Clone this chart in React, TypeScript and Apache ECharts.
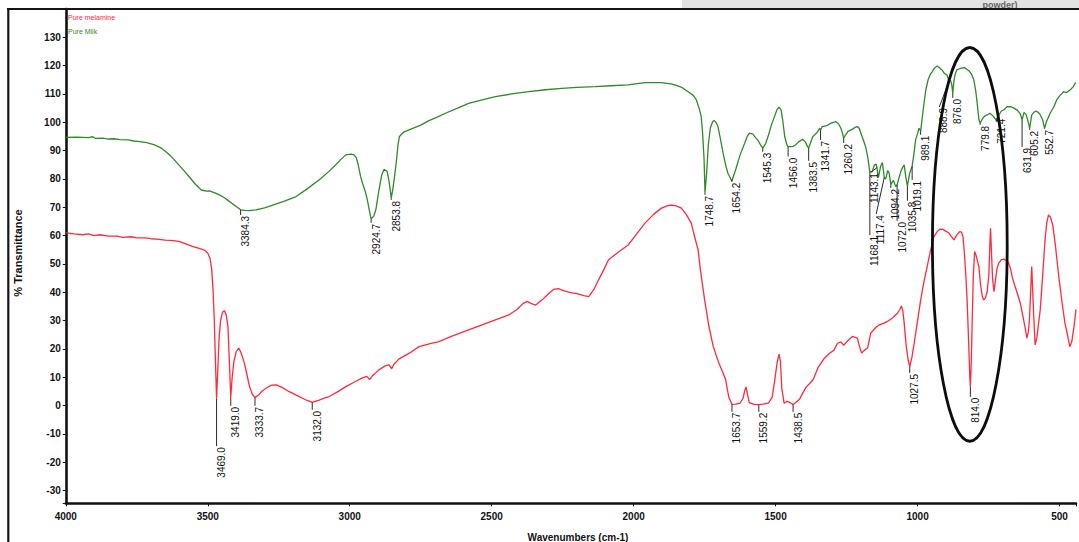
import React, { useEffect, useRef } from "react";
import * as echarts from "echarts";

// [wavenumber (cm-1), % transmittance]
const milkSpectrum: number[][] = [
  [4000, 94.7], [3960, 94.8], [3920, 94.6], [3905, 94.9], [3895, 94.3], [3870, 94.4], [3850, 94.1], [3830, 94.2],
  [3810, 93.9], [3780, 93.8], [3760, 93.4], [3740, 93.2], [3715, 92.8], [3690, 92.1], [3665, 91.0], [3640, 89.0],
  [3620, 87.0], [3599, 84.6], [3580, 82.5], [3564, 80.6], [3545, 78.3], [3523, 76.1], [3505, 75.7], [3494, 75.8],
  [3475, 75.1], [3459, 74.4], [3440, 73.3], [3423, 72.0], [3400, 70.3], [3384.3, 69.1], [3370, 68.9], [3353, 68.8],
  [3330, 69.1], [3300, 69.8], [3271, 70.8], [3230, 72.2], [3189, 73.8], [3150, 76.5], [3107, 79.7], [3075, 82.5],
  [3049, 85.0], [3030, 87.0], [3014, 88.5], [2995, 88.8], [2985, 88.5], [2977, 87.5], [2970, 85.0], [2962, 81.0],
  [2955, 78.5], [2945, 75.5], [2938, 72.6], [2930, 68.5], [2924.7, 65.8], [2915, 67.0], [2908, 69.1], [2902, 73.0],
  [2897, 76.1], [2887, 81.5], [2879, 83.4], [2868, 82.6], [2862, 79.5], [2856, 75.0], [2853.8, 73.2], [2848, 76.5],
  [2842, 81.0], [2836, 86.0], [2830, 92.0], [2825, 95.0], [2810, 96.5], [2791, 97.3], [2750, 99.0], [2721, 100.6],
  [2690, 101.9], [2663, 103.2], [2620, 105.0], [2581, 106.7], [2530, 108.0], [2487, 109.1], [2430, 110.0],
  [2370, 110.8], [2310, 111.5], [2253, 112.0], [2200, 112.3], [2136, 112.6], [2080, 112.9], [2019, 113.2],
  [1960, 114.0], [1902, 114.0], [1870, 113.6], [1855, 113.2], [1830, 112.3], [1808, 110.8], [1790, 109.5],
  [1779, 107.9], [1768, 104.5], [1762, 102.0], [1757, 96.0], [1752, 87.0], [1748.7, 75.2], [1743, 82.0],
  [1737, 92.0], [1730, 98.0], [1722, 100.2], [1717, 100.6], [1710, 100.0], [1703, 98.5], [1694, 94.0],
  [1685, 89.1], [1675, 84.5], [1668, 82.0], [1654.2, 79.3], [1640, 83.5], [1625, 88.5], [1609, 92.6],
  [1600, 95.0], [1592, 96.2], [1580, 95.8], [1570, 94.5], [1563, 93.8], [1553, 92.0], [1545.3, 90.9],
  [1535, 92.5], [1525, 95.5], [1515, 99.0], [1504, 102.0], [1495, 104.5], [1488, 105.3], [1481, 104.5],
  [1475, 100.8], [1468, 95.0], [1460, 92.0], [1456, 91.4], [1440, 91.4], [1430, 92.0], [1420, 93.0],
  [1405, 94.0], [1395, 93.0], [1388, 91.5], [1383.5, 90.9], [1378, 92.5], [1369, 95.0], [1360, 95.8],
  [1352, 96.7], [1345, 97.9], [1341.7, 97.2], [1336, 98.5], [1320, 98.8], [1305, 99.7], [1288, 100.2],
  [1278, 99.4], [1270, 97.9], [1264, 96.0], [1260.2, 94.4], [1254, 95.5], [1245, 96.8], [1229, 97.6],
  [1220, 98.2], [1212, 98.5], [1205, 97.8], [1200, 96.2], [1190, 93.5], [1182, 91.0], [1176, 88.0],
  [1168.1, 82.5], [1160, 82.5], [1152, 85.0], [1146, 85.2], [1143.1, 84.0], [1138, 80.5], [1130, 84.5],
  [1124, 85.8], [1119, 82.0], [1117.4, 80.5], [1112, 80.0], [1105, 83.0], [1100, 82.0], [1094.2, 78.0],
  [1085, 79.5], [1077, 77.3], [1072, 78.0], [1065, 80.5], [1058, 83.0], [1053, 84.0], [1047, 85.0],
  [1042, 81.0], [1035.8, 77.5], [1028, 82.0], [1019.1, 84.5], [1012, 89.5], [1007, 93.8], [1000, 96.0],
  [995, 97.9], [989.1, 97.0], [983, 102.0], [977, 107.0], [971, 111.4], [963, 115.0], [955, 117.0],
  [948, 117.9], [940, 119.2], [931, 119.9], [922, 119.2], [914, 118.5], [905, 117.2], [897, 116.8],
  [888.9, 114.6], [884, 114.8], [880, 113.5], [876, 110.4], [872, 114.5], [868, 116.8], [862, 118.5],
  [850, 119.0], [835, 119.3], [819, 118.2], [810, 117.0], [802, 115.0], [795, 111.0], [790, 106.7],
  [784, 101.0], [779.8, 99.7], [770, 101.5], [762, 102.3], [755, 102.6], [745, 103.2], [732, 102.0],
  [725, 101.0], [721.4, 100.3], [714, 102.5], [705, 104.0], [696, 104.4], [685, 105.5], [673, 105.5],
  [660, 105.0], [648, 104.2], [638, 103.0], [631.9, 100.8], [625, 103.5], [618, 102.8], [610, 100.0],
  [605.2, 97.9], [598, 102.5], [590, 103.6], [582, 104.0], [570, 103.0], [560, 101.0], [552.7, 97.9],
  [545, 100.5], [533, 103.2], [520, 105.5], [510, 107.9], [498, 109.5], [486, 110.8], [475, 110.5],
  [463, 111.4], [452, 112.5], [445, 113.8], [442, 114.0],
];

const melamineSpectrum: number[][] = [
  [4000, 61.0], [3970, 60.6], [3940, 60.3], [3920, 60.6], [3900, 60.0], [3880, 60.3], [3850, 59.8], [3820, 59.8],
  [3800, 59.4], [3770, 59.6], [3750, 59.2], [3720, 59.2], [3700, 58.9], [3670, 58.7], [3650, 58.4], [3620, 58.2],
  [3599, 57.9], [3575, 57.0], [3552, 56.1], [3530, 55.5], [3510, 54.8], [3500, 53.8], [3492, 52.0], [3486, 48.0],
  [3481, 40.0], [3477, 30.0], [3473, 16.0], [3469, 2.5], [3465, 12.0], [3460, 24.0], [3455, 30.0], [3448, 33.0],
  [3441, 33.5], [3435, 32.0], [3429, 27.9], [3425, 18.0], [3419, 3.0], [3414, 10.0], [3408, 15.5], [3400, 19.0],
  [3391, 20.3], [3384, 19.0], [3371, 15.0], [3360, 10.0], [3353, 6.7], [3343, 4.0], [3333.7, 2.8], [3320, 3.8],
  [3310, 5.0], [3295, 6.1], [3275, 7.2], [3259, 7.3], [3240, 6.5], [3213, 4.9], [3190, 3.8], [3166, 2.6],
  [3150, 1.8], [3132, 1.1], [3110, 1.8], [3090, 2.6], [3072, 3.2], [3040, 5.0], [3014, 6.7], [2980, 8.5],
  [2955, 9.8], [2940, 10.3], [2930, 9.2], [2920, 10.5], [2897, 12.6], [2875, 14.0], [2862, 14.4], [2852, 13.0],
  [2845, 14.5], [2827, 16.4], [2790, 18.5], [2756, 20.8], [2720, 21.8], [2686, 22.6], [2640, 24.5], [2600, 26.0],
  [2560, 27.5], [2520, 29.0], [2480, 30.5], [2440, 32.0], [2410, 34.0], [2390, 36.0], [2375, 36.8], [2360, 36.0],
  [2345, 35.5], [2320, 37.5], [2300, 39.5], [2282, 41.0], [2265, 41.3], [2245, 40.5], [2225, 40.0], [2200, 39.5],
  [2175, 38.8], [2158, 38.5], [2140, 41.0], [2124, 44.3], [2105, 48.0], [2089, 51.4], [2050, 54.5], [2019, 56.7],
  [1990, 60.5], [1960, 64.4], [1930, 67.5], [1902, 69.7], [1880, 70.6], [1867, 70.8], [1850, 70.5], [1832, 69.7],
  [1815, 67.5], [1797, 64.4], [1785, 59.5], [1773, 55.0], [1765, 48.0], [1750, 37.3], [1735, 28.0], [1720, 21.0],
  [1700, 15.0], [1685, 11.5], [1676, 9.1], [1665, 3.0], [1653.7, 0.4], [1640, 0.5], [1625, 0.9], [1615, 2.5],
  [1608, 5.5], [1604, 6.6], [1600, 4.5], [1593, 1.0], [1575, 0.4], [1559.2, 0.3], [1545, 0.5], [1525, 0.9],
  [1512, 3.0], [1503, 9.0], [1495, 15.0], [1488, 18.2], [1483, 15.5], [1478, 6.0], [1470, 0.8], [1460, 1.5],
  [1452, 1.2], [1445, 0.8], [1438.5, 0.3], [1428, 1.2], [1416, 2.2], [1404, 4.5], [1392, 6.6], [1380, 7.8],
  [1368, 9.1], [1350, 13.5], [1330, 16.5], [1310, 18.5], [1295, 19.5], [1282, 22.0], [1270, 22.5], [1260, 21.3],
  [1245, 23.0], [1229, 24.4], [1212, 23.8], [1205, 21.0], [1197, 18.5], [1188, 19.5], [1176, 20.3], [1165, 25.6],
  [1150, 27.3], [1135, 28.5], [1120, 29.0], [1106, 29.7], [1090, 30.8], [1071, 32.6], [1062, 34.0], [1057, 35.2],
  [1052, 33.5], [1047, 29.0], [1040, 21.0], [1033, 16.0], [1027.5, 13.8], [1020, 17.0], [1012, 22.0], [1000, 30.0],
  [989, 37.3], [978, 43.5], [966, 49.1], [955, 54.5], [942, 59.7], [930, 61.5], [920, 62.3], [910, 62.2],
  [900, 61.5], [890, 61.0], [882, 59.8], [872, 58.5], [862, 60.2], [852, 61.4], [845, 61.2], [840, 59.5],
  [836, 55.0], [830, 46.0], [825, 36.0], [820, 22.0], [816, 10.0], [814, 6.7], [811, 15.0], [808, 28.0],
  [804, 45.0], [799, 54.4], [794, 53.0], [789, 51.0], [784, 49.0], [778, 42.5], [772, 38.5], [767, 37.3],
  [761, 38.0], [755, 40.0], [749, 46.0], [745, 58.0], [743, 62.6], [740, 55.0], [736, 45.0], [731, 40.2],
  [726, 44.0], [720, 48.5], [714, 50.3], [705, 51.5], [696, 51.7], [688, 51.3], [680, 50.5], [673, 48.5],
  [667, 45.5], [658, 42.5], [650, 40.0], [638, 36.1], [630, 32.0], [622, 28.0], [615, 23.8], [610, 26.0],
  [606, 30.3], [601, 42.0], [598, 49.1], [595, 42.0], [591, 32.0], [586, 21.4], [580, 24.0], [575, 28.0],
  [568, 33.8], [560, 45.0], [551, 58.5], [545, 64.5], [539, 67.3], [532, 66.5], [524, 63.8], [515, 57.0],
  [504, 46.7], [492, 37.0], [481, 29.1], [472, 25.0], [464, 20.8], [457, 22.5], [449, 27.9], [442, 34.0],
];

// peak marks: [wavenumber, %T at peak, %T at end of marker line, wavenumber of label column (0 = beside line)]
const milkPeaks: number[][] = [
  [3384.3, 69.1, 67.3, 0], [2924.7, 65.8, 64.5, 0], [2853.8, 73.2, 72.6, 0], [1748.7, 75.2, 74.4, 0],
  [1654.2, 79.7, 79.0, 0], [1545.3, 90.9, 89.6, 0], [1456.0, 91.4, 87.9, 0], [1383.5, 90.9, 86.4, 0],
  [1341.7, 97.2, 93.8, 0], [1260.2, 94.4, 92.7, 0], [1168.1, 82.5, 60.2, 0], [1143.1, 84.0, 82.4, 1150],
  [1117.4, 80.5, 67.6, 1131.7], [1094.2, 78.0, 76.8, 0], [1072.0, 78.0, 65.2, 0], [1035.8, 77.5, 72.3, 0],
  [1019.1, 84.5, 79.7, 0], [989.1, 97.0, 95.6, 0], [888.9, 114.6, 105.4, 909.4], [876.0, 110.4, 108.6, 0],
  [779.8, 99.7, 99.1, 0], [721.4, 100.3, 101.6, 0], [631.9, 100.8, 91.3, 0], [605.2, 97.9, 97.3, 0],
  [552.7, 97.9, 97.7, 0],
];

const melaminePeaks: number[][] = [
  [3469.0, 2.5, -14.3, 0], [3419.0, 3.0, -0.1, 0], [3333.7, 2.8, -0.1, 0], [3132.0, 1.1, -1.5, 0],
  [1653.7, 0.4, -2.2, 0], [1559.2, 0.3, -2.2, 0], [1438.5, 0.3, -2.2, 0], [1027.5, 13.8, 11.5, 0],
  [814.0, 6.7, 3.1, 0],
];

// highlighted region: [centre wavenumber, centre %T, half-width (cm-1), half-height (%T)]
const highlightRegion: number[][] = [[816, 56.9, 131.7, 69.5]];

const seriesNames = ["Pure melamine", "Pure Milk"];
const axisNames = ["Wavenumbers (cm-1)", "% Transmittance"];
const headerText = "powder)";

const FONT = "Liberation Sans, Arial, sans-serif";
const RED = "#ff2a3a";
const GREEN = "#2f8a27";

export default function App() {
  const ref = useRef<HTMLDivElement>(null);

  useEffect(() => {
    const chart = echarts.init(ref.current!, null, { renderer: "svg" });

    const renderPeak = (params: any, api: any) => {
      const wn = api.value(0);
      const top = api.value(1);
      const end = api.value(2);
      const tw = api.value(3);
      const p1 = api.coord([wn, top]);
      const p2 = api.coord([wn, end]);
      const tx = tw ? api.coord([tw, end])[0] : p2[0] + 5;
      const lx = tw ? tx - 4 : p2[0];
      return {
        type: "group",
        children: [
          {
            type: "line",
            shape: { x1: p1[0], y1: p1[1], x2: lx, y2: p2[1] },
            style: { stroke: "#2a2a2a", lineWidth: 1 },
          },
          {
            type: "text",
            x: tx,
            y: p2[1] + 1,
            rotation: Math.PI / 2,
            style: {
              text: wn.toFixed(1),
              fill: "#111",
              fontSize: 10,
              fontFamily: FONT,
              align: "right",
              verticalAlign: "middle",
            },
          },
        ],
      };
    };

    const renderEllipse = (params: any, api: any) => {
      const c = api.coord([api.value(0), api.value(1)]);
      const s = api.size([api.value(2), api.value(3)]);
      return {
        type: "ellipse",
        shape: { cx: c[0], cy: c[1], rx: s[0], ry: s[1] },
        style: { fill: "none", stroke: "#0d0d0d", lineWidth: 2.8 },
      };
    };

    chart.setOption({
      animation: false,
      backgroundColor: "#ffffff",
      grid: { left: 65.8, right: 0, top: 9, bottom: 38.7 },
      xAxis: {
        type: "value",
        inverse: true,
        min: 442,
        max: 4000,
        minInterval: 500,
        maxInterval: 500,
        splitLine: { show: false },
        axisLine: { onZero: false, lineStyle: { color: "#111", width: 2.6 } },
        axisTick: { length: 3, lineStyle: { color: "#111", width: 1 } },
        axisLabel: {
          margin: 8,
          color: "#111",
          fontSize: 10,
          fontWeight: "bold",
          fontFamily: FONT,
          formatter: (v: number) => (Math.abs(v % 500) < 1e-6 ? String(v) : ""),
        },
      },
      yAxis: {
        type: "value",
        min: -34.5,
        max: 140,
        minInterval: 10,
        maxInterval: 10,
        splitLine: { show: false },
        axisLine: { onZero: false, lineStyle: { color: "#111", width: 2.6 } },
        axisTick: { length: 3, lineStyle: { color: "#111", width: 1 } },
        axisLabel: {
          margin: 5,
          color: "#111",
          fontSize: 10,
          fontWeight: "bold",
          fontFamily: FONT,
          formatter: (v: number) => (Math.abs(v % 10) < 1e-6 && v <= 130 ? String(v) : ""),
        },
      },
      series: [
        {
          name: seriesNames[1],
          type: "line",
          data: milkSpectrum,
          showSymbol: false,
          symbol: "none",
          lineStyle: { color: GREEN, width: 1.3 },
          z: 2,
        },
        {
          name: seriesNames[0],
          type: "line",
          data: melamineSpectrum,
          showSymbol: false,
          symbol: "none",
          lineStyle: { color: RED, width: 1.3 },
          z: 2,
        },
        { type: "custom", data: milkPeaks, renderItem: renderPeak, z: 3, silent: true },
        { type: "custom", data: melaminePeaks, renderItem: renderPeak, z: 3, silent: true },
        { type: "custom", data: highlightRegion, renderItem: renderEllipse, z: 4, silent: true },
      ],
      graphic: [
        { type: "rect", shape: { x: 682, y: 0, width: 397, height: 8 }, style: { fill: "#e3e3e3" } },
        {
          type: "text",
          x: 1000,
          y: 4.5,
          style: {
            text: headerText,
            fill: "#666",
            fontSize: 9,
            fontFamily: FONT,
            fontWeight: "bold",
            align: "center",
            verticalAlign: "middle",
          },
        },
        { type: "line", shape: { x1: 7, y1: 9, x2: 1079, y2: 9 }, style: { stroke: "#151515", lineWidth: 2.2 } },
        { type: "line", shape: { x1: 8.3, y1: 8, x2: 8.3, y2: 542 }, style: { stroke: "#151515", lineWidth: 2.2 } },
        {
          type: "text",
          x: 68,
          y: 17,
          style: { text: seriesNames[0], fill: RED, fontSize: 7, fontFamily: FONT, align: "left", verticalAlign: "middle" },
        },
        {
          type: "text",
          x: 68,
          y: 31,
          style: { text: seriesNames[1], fill: GREEN, fontSize: 7, fontFamily: FONT, align: "left", verticalAlign: "middle" },
        },
        {
          type: "text",
          x: 578,
          y: 537,
          style: {
            text: axisNames[0],
            fill: "#111",
            fontSize: 10,
            fontWeight: "bold",
            fontFamily: FONT,
            align: "center",
            verticalAlign: "middle",
          },
        },
        {
          type: "text",
          x: 18,
          y: 253,
          rotation: Math.PI / 2,
          style: {
            text: axisNames[1],
            fill: "#111",
            fontSize: 11,
            fontWeight: "bold",
            fontFamily: FONT,
            align: "center",
            verticalAlign: "middle",
          },
        },
      ],
    });

    return () => chart.dispose();
  }, []);

  return (
    <div
      ref={ref}
      style={{ position: "absolute", left: 0, top: 0, width: 1079, height: 542, background: "#fff" }}
    />
  );
}
